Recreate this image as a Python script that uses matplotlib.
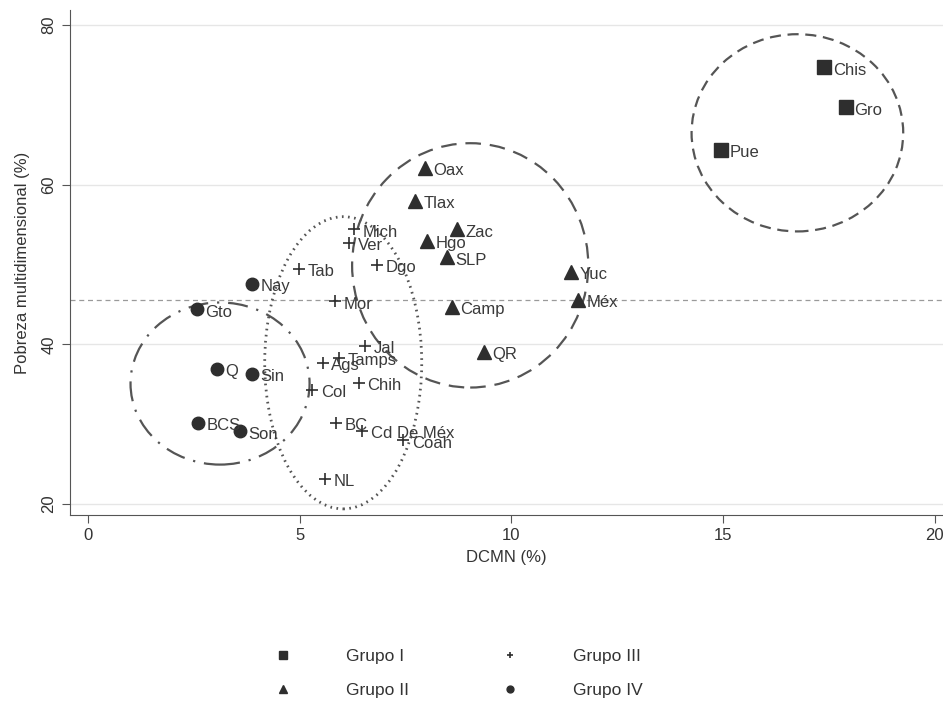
import matplotlib.pyplot as plt
from matplotlib.patches import Ellipse

plt.rcParams['font.family'] = ['Liberation Sans', 'DejaVu Sans']

# Grupo I
g1_names = ['Chis', 'Gro', 'Pue']
g1_x = [17.4, 17.9, 14.96]
g1_y = [74.7, 69.7, 64.4]

# Grupo II
g2_names = ['Oax', 'Tlax', 'Zac', 'Hgo', 'SLP', 'Yuc', 'Méx', 'Camp', 'QR']
g2_x = [7.97, 7.73, 8.72, 8.01, 8.49, 11.42, 11.58, 8.6, 9.36]
g2_y = [62.1, 58.0, 54.4, 53.0, 50.9, 49.1, 45.6, 44.7, 39.1]

# Grupo III
g3_names = ['Mich', 'Ver', 'Tab', 'Dgo', 'Mor', 'Jal', 'Tamps', 'Ags', 'Chih',
            'Col', 'BC', 'Cd De Méx', 'Coah', 'NL']
g3_x = [6.29, 6.17, 4.99, 6.83, 5.84, 6.55, 5.93, 5.55, 6.4, 5.3, 5.86, 6.48, 7.45, 5.6]
g3_y = [54.4, 52.7, 49.5, 50.0, 45.4, 39.8, 38.3, 37.7, 35.2, 34.3, 30.2, 29.2, 28.0, 23.2]

# Grupo IV
g4_names = ['Nay', 'Gto', 'Q', 'Sin', 'BCS', 'Son']
g4_x = [3.88, 2.58, 3.05, 3.88, 2.6, 3.6]
g4_y = [47.6, 44.4, 36.9, 36.3, 30.2, 29.1]

linea_media = 45.5

col = '#2e2e2e'
fig = plt.figure(figsize=(9.43, 7.03), dpi=100)
ax = fig.add_axes([0.074, 0.267, 0.926, 0.719])

for v in [20, 40, 60, 80]:
    ax.axhline(v, color='#e6e6e6', lw=1.0, zorder=0)
ax.axhline(linea_media, color='#9a9a9a', lw=0.9, ls=(0, (4, 3)), zorder=1)

ax.plot(g1_x, g1_y, 's', color=col, ms=9.5, ls='none', label='Grupo I')
ax.plot(g2_x, g2_y, '^', color=col, ms=9.5, ls='none', label='Grupo II')
ax.plot(g3_x, g3_y, '+', color=col, ms=8, mew=1.2, ls='none', label='Grupo III')
ax.plot(g4_x, g4_y, 'o', color=col, ms=9, ls='none', label='Grupo IV')

for names, xs, ys in [(g1_names, g1_x, g1_y), (g2_names, g2_x, g2_y),
                      (g3_names, g3_x, g3_y), (g4_names, g4_x, g4_y)]:
    for n, x, y in zip(names, xs, ys):
        ax.annotate(n, (x, y), xytext=(6, -2), textcoords='offset points',
                    va='center', ha='left', fontsize=12, color='#3a3a3a')

# elipses de los grupos
ax.add_patch(Ellipse((16.76, 66.5), 5.0, 24.7, fill=False, ec='#555555', lw=1.6,
                     ls=(0, (5, 3))))
ax.add_patch(Ellipse((9.03, 49.9), 5.58, 30.6, fill=False, ec='#555555', lw=1.6,
                     ls=(0, (7, 4))))
ax.add_patch(Ellipse((6.03, 37.7), 3.71, 36.6, fill=False, ec='#555555', lw=2.0,
                     ls=(0, (0.6, 1.6))))
ax.add_patch(Ellipse((3.12, 35.1), 4.23, 20.3, fill=False, ec='#555555', lw=1.6,
                     ls=(0, (9, 4, 1, 4))))

ax.set_xlim(-0.43, 20.2)
ax.set_ylim(18.6, 81.9)
ax.set_xticks([0, 5, 10, 15, 20])
ax.set_yticks([20, 40, 60, 80])
ax.spines['top'].set_visible(False)
ax.spines['right'].set_visible(False)
ax.spines['left'].set_color('#555555')
ax.spines['bottom'].set_color('#555555')
ax.tick_params(direction='out', length=6, color='#555555', labelsize=12, labelcolor='#333333')
for lab in ax.get_yticklabels():
    lab.set_rotation(90)
    lab.set_va('center')
ax.set_xlabel('DCMN (%)', fontsize=12, color='#333333', labelpad=5)
ax.set_ylabel('Pobreza multidimensional (%)', fontsize=12, color='#333333', labelpad=8)

handles, labels = ax.get_legend_handles_labels()
leg = fig.legend(handles, labels, ncol=2, loc='center', bbox_to_anchor=(0.486, 0.042),
                 frameon=False, fontsize=12.5, markerscale=0.55, handlelength=1.0,
                 handletextpad=3.15, columnspacing=5.3, labelspacing=1.1)
for t in leg.get_texts():
    t.set_color('#333333')

fig.savefig('out.png', dpi=100)
